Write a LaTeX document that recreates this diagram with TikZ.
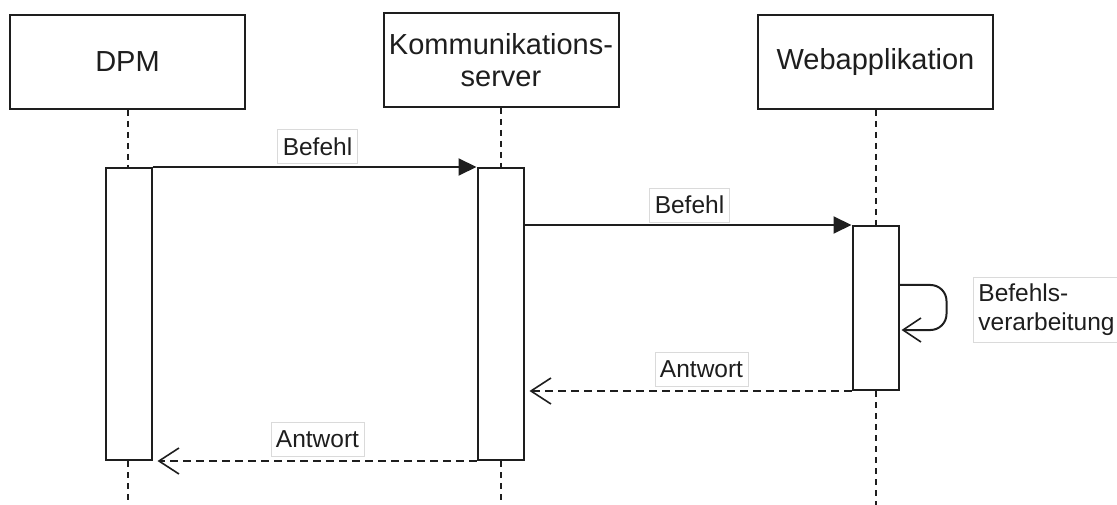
\documentclass[tikz,border=0pt]{standalone}
\usepackage{fontspec}
\setmainfont{Liberation Sans}
\usetikzlibrary{arrows.meta,calc}

\definecolor{ink}{HTML}{1E1E1E}
\definecolor{labelrule}{HTML}{DADADA}

\tikzset{
  actor/.style={draw=ink, line width=2pt, fill=white, minimum width=235pt,
    minimum height=94pt, inner sep=0pt, align=center, font=\fontsize{29}{32}\selectfont, text=ink},
  activation/.style={draw=ink, line width=2pt, fill=white, minimum width=46pt, inner sep=0pt},
  lifeline/.style={draw=ink, line width=2pt, dash pattern=on 6pt off 5pt},
  call/.style={draw=ink, line width=2pt, -{Triangle[length=18pt,width=17pt]}},
  reply/.style={draw=ink, line width=2pt, dash pattern=on 8pt off 5pt,
    -{Straight Barb[length=20pt,width=26pt,line width=1.6pt]}, shorten >=5pt},
  selfcall/.style={draw=ink, line width=2pt, rounded corners=16pt,
    -{Straight Barb[length=18pt,width=24pt,line width=1.6pt]}, shorten >=2pt},
  msglabel/.style={draw=labelrule, line width=0.8pt, fill=white, text=ink,
    font=\fontsize{24.5}{29}\selectfont, inner xsep=5pt, minimum height=34pt, align=left}
}

\begin{document}
\begin{tikzpicture}[x=1pt,y=-1pt]
  \useasboundingbox (0,0) rectangle (1117,505);

  % participants
  \node[actor] (dpm)  at (127.5,62) {DPM};
  \node[actor] (komm) at (501,60)   {Kommunikations-\\server};
  \node[actor] (web)  at (875.5,62) {Webapplikation};

  % lifeline ends at the bottom edge
  \coordinate (dpmend)  at (127.5,505);
  \coordinate (kommend) at (501,505);
  \coordinate (webend)  at (875.5,505);

  % activation bars
  \node[activation, minimum height=292pt] (dpmact)  at (128.5,314) {};
  \node[activation, minimum height=292pt] (kommact) at (500.5,314) {};
  \node[activation, minimum height=164pt] (webact)  at (875.5,308) {};

  % lifelines
  \draw[lifeline] (dpm.south)  -- (dpmact.north -| dpm.south);
  \draw[lifeline] (dpmact.south -| dpm.south) -- (dpmend);
  \draw[lifeline] (komm.south) -- (kommact.north -| komm.south);
  \draw[lifeline] (kommact.south -| komm.south) -- (kommend);
  \draw[lifeline] (web.south)  -- (webact.north -| web.south);
  \draw[lifeline] (webact.south -| web.south) -- (webend);

  % messages
  \draw[call] (dpmact.north east) -- (kommact.north west);
  \draw[call] (webact.north west -| kommact.east) -- (webact.north west);
  \draw[reply] (webact.south west) -- (webact.south west -| kommact.east);
  \draw[reply] (kommact.south west) -- (dpmact.south east);

  % self call on the web application
  \coordinate (loopout) at (webact.north east |- 0,285);
  \coordinate (loopin)  at (webact.north east |- 0,330);
  \draw[selfcall] (loopout) -- ++(47,0) |- (loopin);

  % message labels
  \node[msglabel] (lbefehla)  at (317.5,146.5) {Befehl};
  \node[msglabel] (lbefehlb)  at (689.5,205)   {Befehl};
  \node[msglabel] (lantworta) at (701.5,369.5) {Antwort};
  \node[msglabel] (lantwortb) at (317.5,439.5) {Antwort};
  \node[msglabel, anchor=west, minimum height=65pt, inner ysep=3pt] (lverarb)
    at (973,309.5) {Befehls-\\verarbeitung};
\end{tikzpicture}
\end{document}
